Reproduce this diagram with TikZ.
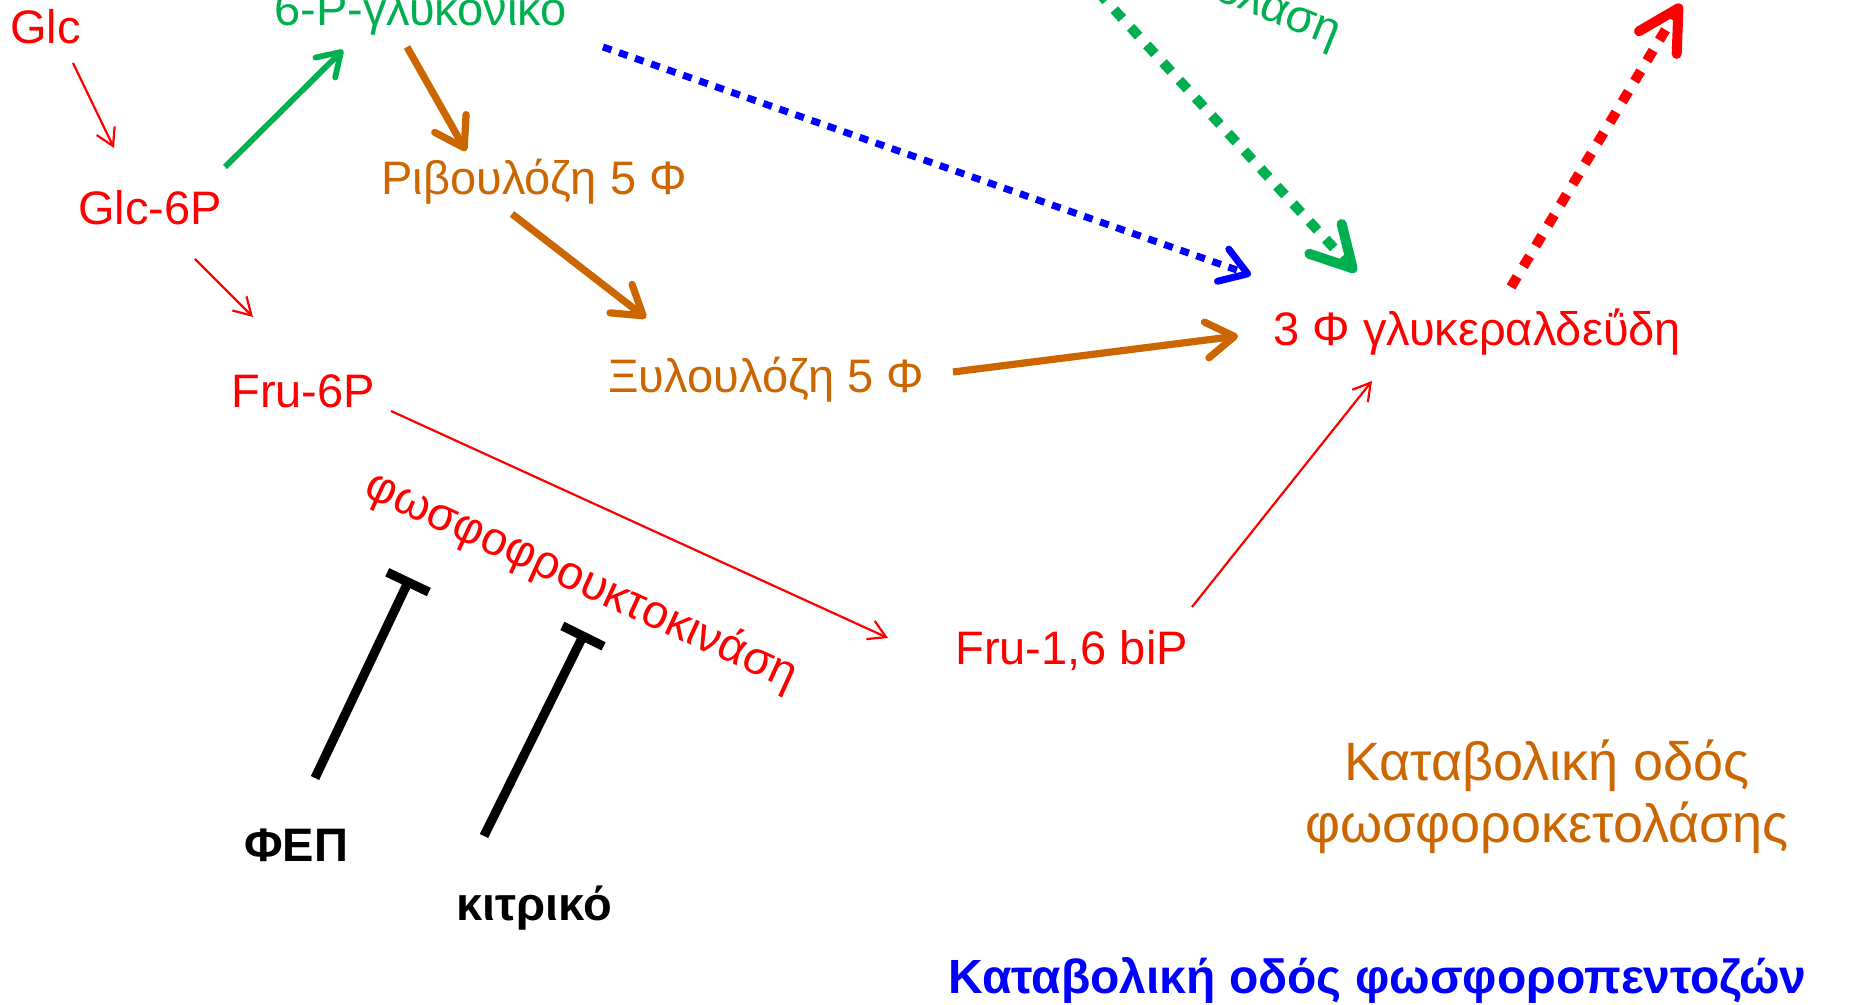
\documentclass[tikz,border=0pt]{standalone}
\usepackage{fontspec}
\setmainfont{Liberation Sans}
\usetikzlibrary{arrows.meta}
\definecolor{pwred}{RGB}{255,0,0}
\definecolor{pwgreen}{RGB}{0,176,80}
\definecolor{pwbrown}{RGB}{204,102,0}
\definecolor{pwblue}{RGB}{0,0,255}
\tikzset{
  lbl/.style={inner sep=0pt, anchor=base west, font=\fontsize{23.5}{28}\selectfont},
  thinarrow/.style={draw=pwred, line width=1.1pt, -{Straight Barb[length=8.5pt,width=10pt]}},
  greenarrow/.style={draw=pwgreen, line width=2.9pt, -{Straight Barb[length=11pt,width=14pt,round]}},
  brownarrow/.style={draw=pwbrown, line width=3.6pt, -{Straight Barb[length=14pt,width=18pt,round]}},
  bluedots/.style={draw=pwblue, line width=3.5pt, dash pattern=on 4.5pt off 4pt, -{Straight Barb[length=13pt,width=17pt,round]}},
  bigdots/.style={line width=5pt, dash pattern=on 6pt off 6pt, -{Straight Barb[length=20pt,width=22pt,round]}},
  inhibit/.style={draw=black, line width=4.6pt, -{Bar[width=23pt]}}
}
\begin{document}
\begin{tikzpicture}[x=0.5pt,y=-0.5pt]
\useasboundingbox (0,0) rectangle (1854,1005);
\clip (0,0) rectangle (1854,1005);

% metabolites
\node[lbl, text=pwred] (glc) at (10,44) {Glc};
\node[lbl, text=pwred] (g6p) at (78,225) {Glc-6P};
\node[lbl, text=pwgreen] (pgl) at (274,26) {6-P-γλυκονικό};
\node[lbl, text=pwbrown] (ru5p) at (381,195) {Ριβουλόζη 5 Φ};
\node[lbl, text=pwbrown] (xu5p) at (608,393) {Ξυλουλόζη 5 Φ};
\node[lbl, text=pwred] (gap) at (1273,346) {3 Φ γλυκεραλδεΰδη};
\node[lbl, text=pwred] (f6p) at (231,408) {Fru-6P};
\node[lbl, text=pwred] (fbp) at (955,664) {Fru-1,6 biP};

% enzymes
\node[inner sep=0pt, anchor=mid, rotate=-24.5, text=pwred, font=\fontsize{23.5}{28}\selectfont] (pfk) at (578,588) {φωσφοφρουκτοκινάση};
\node[inner sep=0pt, anchor=base east, rotate=-22, text=pwgreen, font=\fontsize{23.5}{28}\selectfont] (aldo) at (1334,47) {αλδολάση};

% effectors
\node[lbl, font=\fontsize{23.5}{28}\selectfont\bfseries] (pep) at (244,861) {ΦΕΠ};
\node[lbl, font=\fontsize{23.5}{28}\selectfont\bfseries] (cit) at (456,920) {κιτρικό};

% pathway captions
\node[inner sep=0pt, align=center, text=pwbrown, font=\fontsize{27}{31}\selectfont] (pkcap) at (1547,797) {Καταβολική οδός\\φωσφοροκετολάσης};
\node[lbl, text=pwblue, font=\fontsize{24}{28}\selectfont\bfseries] (ppcap) at (948,993) {Καταβολική οδός φωσφοροπεντοζών};

% connector end points
\coordinate (glc-out) at (73,63);
\coordinate (g6p-in) at (114,148);
\coordinate (g6p-up) at (225,167);
\coordinate (pgl-in) at (343,50);
\coordinate (pgl-out) at (407,47);
\coordinate (ru5p-in) at (466,151);
\coordinate (ru5p-out) at (512,214);
\coordinate (xu5p-in) at (646,318);
\coordinate (xu5p-out) at (953,372);
\coordinate (gap-in-x) at (1238,336);
\coordinate (pgl-far) at (603,47);
\coordinate (gap-in-p) at (1251,275);
\coordinate (kdpg-from) at (1098,-8);
\coordinate (gap-in-k) at (1356,272);
\coordinate (gap-out) at (1511,287);
\coordinate (lower-glyc) at (1681,4);
\coordinate (g6p-down) at (195,259);
\coordinate (f6p-in) at (253,317);
\coordinate (f6p-out) at (391,411);
\coordinate (fbp-in) at (888,638);
\coordinate (fbp-out) at (1192,607);
\coordinate (gap-in-f) at (1372,381);
\coordinate (pep-out) at (315,778);
\coordinate (pfk-a) at (410,578);
\coordinate (cit-out) at (484,836);
\coordinate (pfk-b) at (585,632);

% glycolysis (thin red)
\draw[thinarrow] (glc-out) -- (g6p-in);
\draw[thinarrow] (g6p-down) -- (f6p-in);
\draw[thinarrow] (f6p-out) -- (fbp-in);
\draw[thinarrow] (fbp-out) -- (gap-in-f);

% oxidative branch and pentose steps
\draw[greenarrow] (g6p-up) -- (pgl-in);
\draw[brownarrow] (pgl-out) -- (ru5p-in);
\draw[brownarrow] (ru5p-out) -- (xu5p-in);
\draw[brownarrow] (xu5p-out) -- (gap-in-x);

% dotted routes
\draw[bluedots] (pgl-far) -- (gap-in-p);
\draw[bigdots, draw=pwgreen] (kdpg-from) -- (gap-in-k);
\draw[bigdots, draw=pwred] (gap-out) -- (lower-glyc);

% allosteric inhibition of PFK
\draw[inhibit] (pep-out) -- (pfk-a);
\draw[inhibit] (cit-out) -- (pfk-b);
\end{tikzpicture}
\end{document}
